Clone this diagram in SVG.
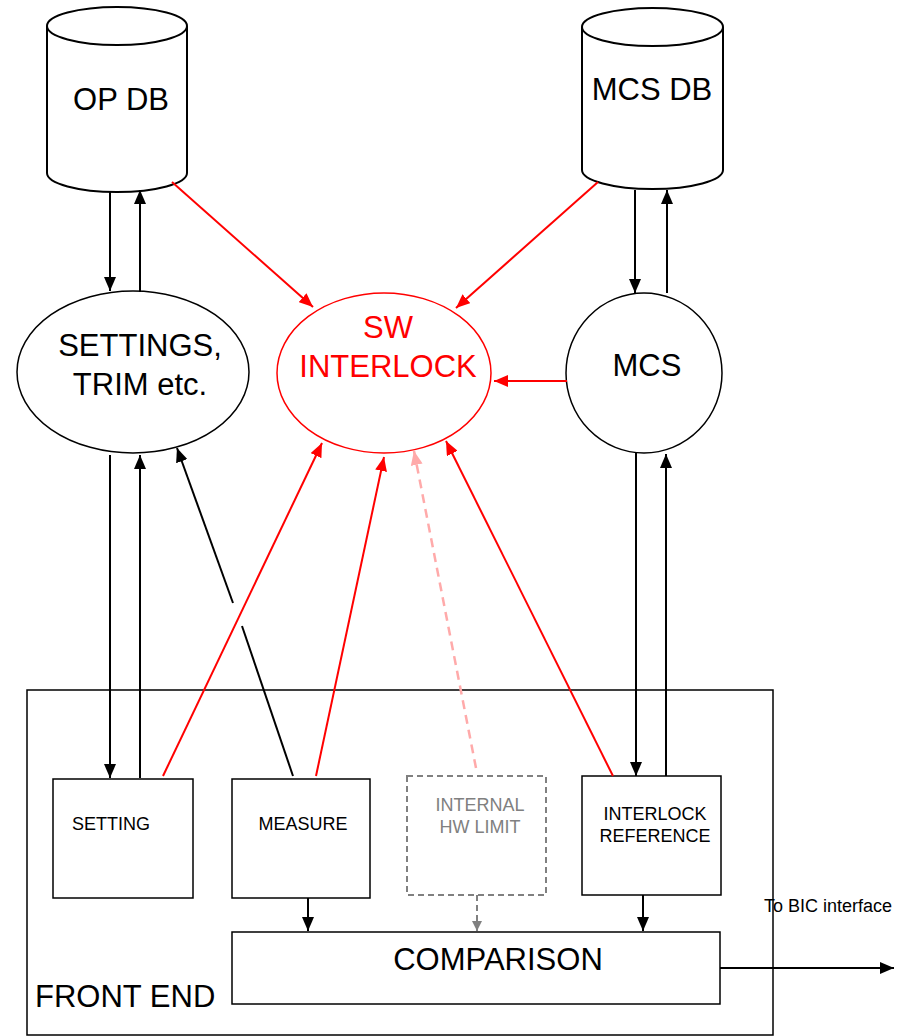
<svg xmlns="http://www.w3.org/2000/svg" width="908" height="1036" viewBox="0 0 908 1036">
  <style>
    .shape { fill: #ffffff; stroke: #000000; stroke-width: 2; }
    .thin { fill: #ffffff; stroke: #000000; stroke-width: 1.5; }
    .big { font-family: "Liberation Sans", Arial, sans-serif; font-size: 31px; fill: #000000; text-anchor: middle; }
    .small { font-family: "Liberation Sans", Arial, sans-serif; font-size: 18px; fill: #000000; text-anchor: middle; }
    .blk { stroke: #000000; stroke-width: 2; fill: none; marker-end: url(#ah-black); }
    .red { stroke: #ff0000; stroke-width: 2; fill: none; marker-end: url(#ah-red); }
    .pink { stroke: #ffaaaa; stroke-width: 2.5; fill: none; stroke-dasharray: 9 6; marker-end: url(#ah-pink); }
    .gray { stroke: #808080; stroke-width: 2; fill: none; stroke-dasharray: 6 4; marker-end: url(#ah-gray); }
  </style>
  <defs>
    <marker id="ah-black" markerUnits="userSpaceOnUse" markerWidth="16" markerHeight="12" refX="14" refY="6" orient="auto">
      <path d="M0,0 L14,6 L0,12 z" fill="#000000"/>
    </marker>
    <marker id="ah-red" markerUnits="userSpaceOnUse" markerWidth="16" markerHeight="12" refX="14" refY="6" orient="auto">
      <path d="M0,0 L14,6 L0,12 z" fill="#ff0000"/>
    </marker>
    <marker id="ah-pink" markerUnits="userSpaceOnUse" markerWidth="16" markerHeight="12" refX="14" refY="6" orient="auto">
      <path d="M0,0 L14,6 L0,12 z" fill="#ffaaaa"/>
    </marker>
    <marker id="ah-gray" markerUnits="userSpaceOnUse" markerWidth="12" markerHeight="10" refX="10" refY="5" orient="auto">
      <path d="M0,0 L10,5 L0,10 z" fill="#808080"/>
    </marker>
  </defs>

  <rect width="908" height="1036" fill="#ffffff"/>

  <!-- front end container -->
  <g id="front-end">
    <rect x="27" y="690" width="746" height="345" fill="#ffffff" stroke="#000000" stroke-width="1.5"/>
    <text class="big" x="35" y="1007" style="text-anchor:start">FRONT END</text>
  </g>

  <!-- databases -->
  <g id="op-db">
    <path class="shape" d="M47,26 L47,173 A70,19 0 0 0 187,173 L187,26"/>
    <ellipse class="shape" cx="117" cy="26" rx="70" ry="19"/>
    <text class="big" x="121" y="110">OP DB</text>
  </g>
  <g id="mcs-db">
    <path class="shape" d="M582,27 L582,170 A70.5,19 0 0 0 723,170 L723,27"/>
    <ellipse class="shape" cx="652.5" cy="27" rx="70.5" ry="19"/>
    <text class="big" x="652" y="100">MCS DB</text>
  </g>

  <!-- services -->
  <g id="settings-trim">
    <ellipse class="thin" cx="133" cy="372" rx="116" ry="81"/>
    <text class="big" x="140" y="356">SETTINGS,</text>
    <text class="big" x="140" y="395">TRIM etc.</text>
  </g>
  <g id="sw-interlock">
    <ellipse cx="384" cy="373" rx="107" ry="80" fill="#ffffff" stroke="#ff0000" stroke-width="1.5"/>
    <text class="big" x="388" y="338" fill="#ff0000" style="fill:#ff0000">SW</text>
    <text class="big" x="388" y="377" style="fill:#ff0000">INTERLOCK</text>
  </g>
  <g id="mcs">
    <ellipse class="thin" cx="644" cy="373" rx="78" ry="80"/>
    <text class="big" x="647" y="376">MCS</text>
  </g>

  <!-- front-end blocks -->
  <g id="setting">
    <rect class="thin" x="53" y="779" width="140" height="119"/>
    <text class="small" x="72" y="830" style="text-anchor:start">SETTING</text>
  </g>
  <g id="measure">
    <rect class="thin" x="232" y="779" width="138" height="119"/>
    <text class="small" x="303" y="830">MEASURE</text>
  </g>
  <g id="internal-hw-limit">
    <rect x="407" y="776" width="139" height="119" fill="#ffffff" stroke="#808080" stroke-width="2" stroke-dasharray="6 4"/>
    <text class="small" x="480" y="811" style="fill:#808080">INTERNAL</text>
    <text class="small" x="480" y="833" style="fill:#808080">HW LIMIT</text>
  </g>
  <g id="interlock-reference">
    <rect class="thin" x="582" y="776" width="139" height="119"/>
    <text class="small" x="655" y="820">INTERLOCK</text>
    <text class="small" x="655" y="842">REFERENCE</text>
  </g>
  <g id="comparison">
    <rect class="thin" x="232" y="932" width="488" height="72"/>
    <text class="big" x="498" y="970">COMPARISON</text>
  </g>
  <g id="bic-label">
    <text class="small" x="764" y="912" style="text-anchor:start">To BIC interface</text>
  </g>

  <g id="connectors">
    <!-- OP DB <-> SETTINGS -->
    <line class="blk" x1="110" y1="192" x2="110" y2="291"/>
    <line class="blk" x1="140" y1="292" x2="140" y2="190"/>
    <!-- SETTINGS <-> SETTING -->
    <line class="blk" x1="110" y1="455" x2="110" y2="778"/>
    <line class="blk" x1="140" y1="778" x2="140" y2="455"/>
    <!-- MEASURE -> SETTINGS (with line jump) -->
    <line x1="293" y1="776" x2="242" y2="626" stroke="#000000" stroke-width="2"/>
    <line class="blk" x1="233" y1="603" x2="177" y2="448"/>
    <!-- MCS DB <-> MCS -->
    <line class="blk" x1="635" y1="190" x2="635" y2="293"/>
    <line class="blk" x1="667" y1="293" x2="667" y2="190"/>
    <!-- MCS <-> INTERLOCK REFERENCE -->
    <line class="blk" x1="636" y1="453" x2="636" y2="776"/>
    <line class="blk" x1="666" y1="776" x2="666" y2="454"/>
    <!-- into SW INTERLOCK -->
    <line class="red" x1="172" y1="182" x2="313" y2="307"/>
    <line class="red" x1="598" y1="182" x2="456" y2="308"/>
    <line class="red" x1="567" y1="381" x2="494" y2="381"/>
    <line class="red" x1="163" y1="776" x2="322" y2="443"/>
    <line class="red" x1="316" y1="776" x2="384" y2="457"/>
    <line class="pink" x1="476" y1="768" x2="414" y2="451"/>
    <line class="red" x1="613" y1="776" x2="446" y2="441"/>
    <!-- into COMPARISON -->
    <line class="blk" x1="308" y1="898" x2="308" y2="931"/>
    <line class="gray" x1="477" y1="895" x2="477" y2="931"/>
    <line class="blk" x1="643" y1="895" x2="643" y2="931"/>
    <!-- to BIC interface -->
    <line class="blk" x1="720" y1="968" x2="894" y2="968"/>
  </g>
</svg>
